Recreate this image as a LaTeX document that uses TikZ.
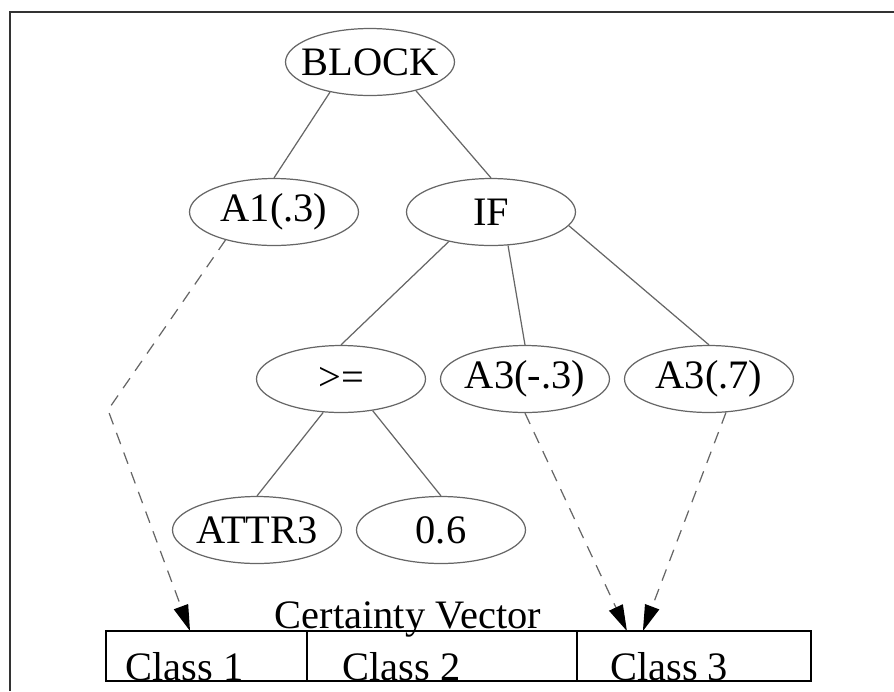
\documentclass[tikz,border=0pt]{standalone}
\usepackage{fontspec}
\setmainfont{Liberation Serif}
\usetikzlibrary{calc, positioning, arrows.meta, shapes.geometric}

\begin{document}
\begin{tikzpicture}[x=0.02cm, y=-0.02cm, font=\fontsize{23}{27}\selectfont,
    arbol/.style={ellipse, draw=linea, line width=0.7pt, minimum width=3.38cm, minimum height=1.34cm, inner xsep=-6pt, inner ysep=0pt},
    rama/.style={draw=linea, line width=0.7pt},
    salida/.style={draw=linea, line width=0.7pt, dash pattern=on 0.24cm off 0.18cm, -{Triangle[length=0.52cm, width=0.3cm, color=black, fill=black]}},
    celda/.style={rectangle, draw=black, line width=0.9pt, minimum height=1cm, inner sep=0pt, outer sep=0pt},
    texto/.style={inner sep=0pt}]
    % --- Paleta ---
    \colorlet{linea}{black!60}
    \colorlet{marco}{black!80}

    % --- Area y marco ---
    \useasboundingbox (0,0) rectangle (894,691);
    \draw[marco, line width=1.4pt] (10,691) -- (10,12) -- (894,12);

    % --- Nodos del arbol ---
    \node[arbol] (block) at (370,62) {BLOCK};
    \node[arbol] (a1) at (274,212) {A1(.3)};
    \node[arbol] (if) at (491,212) {IF};
    \node[arbol] (geq) at (341,379) {>=};
    \node[arbol] (a3neg) at (525,379) {A3(-.3)};
    \node[arbol] (a3pos) at (709,379) {A3(.7)};
    \node[arbol] (attr) at (257,530) {ATTR3};
    \node[arbol] (val) at (441,530) {0.6};

    % --- Ramas ---
    \draw[rama] (block.217) -- (a1.north);
    \draw[rama] (block.328) -- (if.north);
    \draw[rama] (if.215) -- (geq.north);
    \draw[rama] (if.297) -- (a3neg.north);
    \draw[rama] (if.350) -- (a3pos.north);
    \draw[rama] (geq.242) -- (attr.north);
    \draw[rama] (geq.315) -- (val.north);

    % --- Vector de certeza ---
    \node[celda, minimum width=4.02cm] (c1) at (206.5,656) {};
    \node[celda, minimum width=5.4cm, right=0pt of c1] (c2) {};
    \node[celda, minimum width=4.68cm, right=0pt of c2] (c3) {};
    \node[texto, anchor=base] (cv) at ($(c2.north)+(-34,-3)$) {Certainty Vector};
    \node[texto, anchor=base west] (k1) at ($(c1.south west)+(19,-1)$) {Class 1};
    \node[texto, anchor=base west] (k2) at ($(c2.south west)+(35,-1)$) {Class 2};
    \node[texto, anchor=base west] (k3) at ($(c3.south west)+(33,-1)$) {Class 3};

    % --- Flechas de salida ---
    \coordinate (codo) at (108,410);
    \coordinate (t1) at ($(c1.north west)+(84,0)$);
    \coordinate (t3a) at ($(c3.north west)+(50,0)$);
    \coordinate (t3b) at ($(c3.north west)+(66,0)$);
    \draw[salida] (a1.210) -- (codo) -- (t1);
    \draw[salida] (a3neg.south) -- (t3a);
    \draw[salida] (a3pos.297) -- (t3b);
\end{tikzpicture}
\end{document}
